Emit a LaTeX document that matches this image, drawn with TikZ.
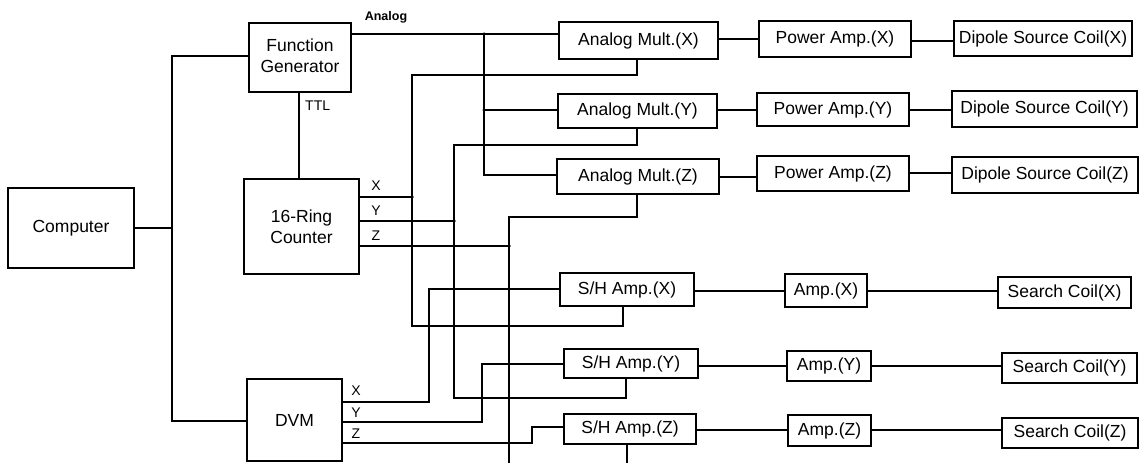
\documentclass[tikz,border=0pt]{standalone}
\usepackage{fontspec}
\setmainfont{Liberation Sans}
\begin{document}
\begin{tikzpicture}[x=1pt,y=-1pt,
  box/.style={draw,line width=1.1pt,inner sep=0pt,align=center,font=\fontsize{17.5}{21}\selectfont},
  wire/.style={line width=1.1pt},
  lbl/.style={inner sep=0pt,font=\fontsize{14}{16}\selectfont},
  dot/.style={circle,fill,inner sep=0pt,minimum size=3.5pt}]
\useasboundingbox (0,0) rectangle (1140,463);
% boxes
\node[box,minimum width=126,minimum height=80] (comp) at (71,228) {Computer};
\node[box,minimum width=102,minimum height=69] (fg) at (300,57.5) {\raisebox{5pt}{\begin{tabular}{@{}c@{}}Function\\Generator\end{tabular}}};
\node[box,minimum width=115,minimum height=95] (rc) at (301.5,226.5) {16-Ring\\Counter};
\node[box,minimum width=95,minimum height=82] (dvm) at (294.5,420) {DVM};
\node[box,minimum width=159,minimum height=37] (mx) at (638.5,40.5) {Analog Mult.(X)};
\node[box,minimum width=159,minimum height=34] (my) at (637.5,111) {Analog Mult.(Y)};
\node[box,minimum width=162,minimum height=35] (mz) at (638,176.5) {Analog Mult.(Z)};
\node[box,minimum width=152,minimum height=36] (px) at (835,39) {Power Amp.(X)};
\node[box,minimum width=152,minimum height=33] (py) at (833,109.5) {Power Amp.(Y)};
\node[box,minimum width=152,minimum height=35] (pz) at (833,173.5) {Power Amp.(Z)};
\node[box,minimum width=178,minimum height=35] (dx) at (1043,38.5) {Dipole Source Coil(X)};
\node[box,minimum width=185,minimum height=36] (dy) at (1044.5,109) {Dipole Source Coil(Y)};
\node[box,minimum width=186,minimum height=36] (dz) at (1045,175) {Dipole Source Coil(Z)};
\node[box,minimum width=134,minimum height=33] (sx) at (627,289.5) {S/H Amp.(X)};
\node[box,minimum width=134,minimum height=29] (sy) at (631,363.5) {S/H Amp.(Y)};
\node[box,minimum width=132,minimum height=30] (sz) at (630,429) {S/H Amp.(Z)};
\node[box,minimum width=82,minimum height=33] (ax) at (826,290.5) {Amp.(X)};
\node[box,minimum width=84,minimum height=30] (ay) at (829,366) {Amp.(Y)};
\node[box,minimum width=83,minimum height=31] (az) at (829.5,430.5) {Amp.(Z)};
\node[box,minimum width=133,minimum height=31] (cx) at (1064.5,292.5) {Search Coil(X)};
\node[box,minimum width=135,minimum height=30] (cy) at (1069.5,368) {Search Coil(Y)};
\node[box,minimum width=136,minimum height=30] (cz) at (1070,433) {Search Coil(Z)};
% labels
\node[lbl,font=\fontsize{12.5}{15}\selectfont\bfseries] (lan) at (386,17) {Analog};
\node[lbl,anchor=west] (lttl) at (305,106) {TTL};
\node[lbl] (lrx) at (376,186) {X};
\node[lbl] (lry) at (376,211) {Y};
\node[lbl] (lrz) at (376,236) {Z};
\node[lbl] (ldx) at (356,391) {X};
\node[lbl] (ldy) at (356,413) {Y};
\node[lbl] (ldz) at (356,434) {Z};
% coordinates
\coordinate (bus) at (172,228);
\coordinate (ja) at (484,34);
\coordinate (jb) at (484,110);
\coordinate (jx) at (412,197);
\coordinate (jy) at (454,221);
\coordinate (jz) at (509,246);
\coordinate (endz) at (509,463);
\coordinate (endsz) at (627,463);
% computer bus
\draw[wire] (comp.east |- bus) -- (bus);
\draw[wire] (fg.west |- 0,56) -- (172,56) -- (172,421) -- (dvm.west |- 0,421);
% function generator
\draw[wire] (fg.east |- ja) -- (ja) -- (mx.west |- ja);
\draw[wire] (ja) -- (484,175) -- (mz.west |- 0,175);
\draw[wire] (jb) -- (my.west |- jb);
\draw[wire] (fg.south -| 299,0) -- (rc.north -| 299,0);
% ring counter outputs
\draw[wire] (rc.east |- jx) -- (jx);
\draw[wire] (rc.east |- jy) -- (jy);
\draw[wire] (rc.east |- jz) -- (jz);
% mult to S/H
\draw[wire] (mx.south -| 637,0) -- (637,75) -- (412,75) -- (412,326) -- (623,326) -- (sx.south -| 623,0);
\draw[wire] (my.south -| 637,0) -- (637,145) -- (454,145) -- (454,398) -- (626,398) -- (sy.south -| 626,0);
\draw[wire] (mz.south -| 637,0) -- (637,217) -- (509,217) -- (endz);
\draw[wire] (sz.south -| endsz) -- (endsz);
% DVM
\draw[wire] (dvm.east |- 0,402) -- (429,402) -- (429,289) -- (sx.west |- 0,289);
\draw[wire] (dvm.east |- 0,422) -- (482,422) -- (482,364) -- (sy.west |- 0,364);
\draw[wire] (dvm.east |- 0,443) -- (532,443) -- (532,427) -- (sz.west |- 0,427);
% chains
\draw[wire] (mx.east |- 0,39) -- (px.west |- 0,39);
\draw[wire] (px.east |- 0,41) -- (dx.west |- 0,41);
\draw[wire] (my.east |- 0,110) -- (py.west |- 0,110);
\draw[wire] (py.east |- 0,110) -- (dy.west |- 0,110);
\draw[wire] (mz.east |- 0,177) -- (pz.west |- 0,177);
\draw[wire] (pz.east |- 0,173) -- (dz.west |- 0,173);
\draw[wire] (sx.east |- 0,291) -- (ax.west |- 0,291);
\draw[wire] (ax.east |- 0,291) -- (cx.west |- 0,291);
\draw[wire] (sy.east |- 0,366) -- (ay.west |- 0,366);
\draw[wire] (ay.east |- 0,366) -- (cy.west |- 0,366);
\draw[wire] (sz.east |- 0,430) -- (az.west |- 0,430);
\draw[wire] (az.east |- 0,430) -- (cz.west |- 0,430);
% junction dots
\foreach \j in {ja,jb,jx,jy,jz} \node[dot] at (\j) {};
\end{tikzpicture}
\end{document}
